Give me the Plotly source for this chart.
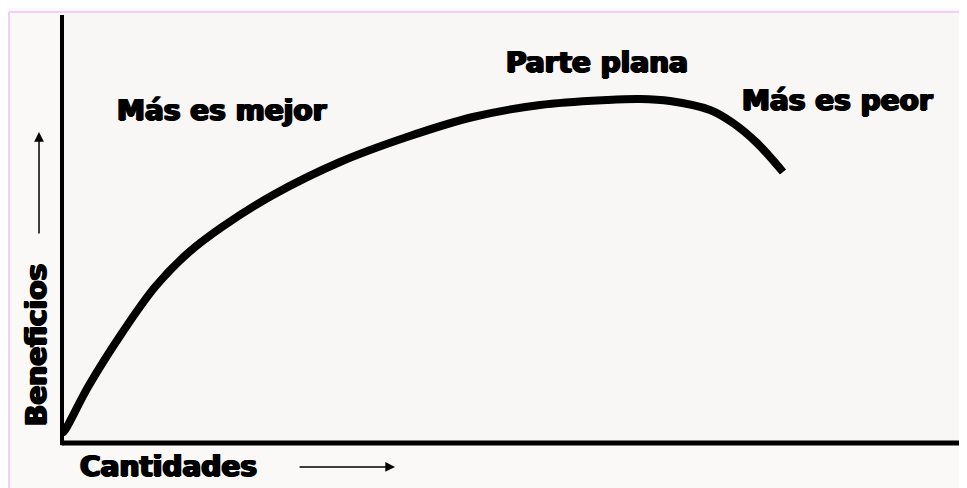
import plotly.graph_objects as go

# curve (x = quantity, y = benefit, arbitrary units)
cantidades = [0, 3, 26, 60, 93, 126, 160, 211, 278, 345, 411, 478, 545, 578, 608, 648, 671, 695, 721]
beneficios = [10, 13, 56, 110, 156, 190, 216, 248, 281, 306, 326, 338, 343, 344, 342, 333, 320, 300, 271]

etiquetas = ["Más es mejor", "Parte plana", "Más es peor"]
etiqueta_x = [160, 535, 775]
etiqueta_y = [333, 381, 343]

FONT = "DejaVu Sans, Verdana, sans-serif"
HEAVY = {"family": FONT, "size": 28, "color": "black", "weight": "bold",
         "shadow": "1.2px 0 0 black, -1.2px 0 0 black, 0 0.5px 0 black"}

fig = go.Figure()
fig.add_trace(
    go.Scatter(
        x=cantidades,
        y=beneficios,
        mode="lines",
        line={"color": "black", "width": 8, "shape": "spline", "smoothing": 1.0},
        hoverinfo="skip",
        showlegend=False,
    )
)

for text, x, y in zip(etiquetas, etiqueta_x, etiqueta_y):
    fig.add_annotation(x=x, y=y, text=text, showarrow=False, font=HEAVY)

# axis titles sit outside the plotting area, so they use paper coordinates
fig.add_annotation(xref="paper", yref="paper", x=0.118, y=-0.056, text="Cantidades",
                   xanchor="center", yanchor="middle", showarrow=False, font=HEAVY)
fig.add_annotation(xref="paper", yref="paper", x=-0.0276, y=0.229, text="Beneficios",
                   xanchor="center", yanchor="middle", showarrow=False, textangle=-90, font=HEAVY)

# small direction arrows next to the axis titles
fig.add_annotation(xref="paper", yref="paper", x=0.368, y=-0.056, ax=-97, ay=0, text="",
                   showarrow=True, arrowhead=2, arrowsize=1.3, arrowwidth=1.5, arrowcolor="black")
fig.add_annotation(xref="paper", yref="paper", x=-0.0254, y=0.7266, ax=0, ay=103, text="",
                   showarrow=True, arrowhead=2, arrowsize=1.3, arrowwidth=1.5, arrowcolor="black")

# axes and the faint pink frame
fig.add_shape(type="line", xref="paper", yref="paper", x0=0, x1=0, y0=-0.005, y1=1,
              line={"color": "black", "width": 4})
fig.add_shape(type="line", xref="paper", yref="paper", x0=0, x1=1.01, y0=0, y1=0,
              line={"color": "black", "width": 5})
fig.add_shape(type="line", xref="paper", yref="paper", x0=-0.0586, x1=1.01, y0=1.007, y1=1.007,
              line={"color": "#f6cdf4", "width": 2})
fig.add_shape(type="line", xref="paper", yref="paper", x0=-0.0586, x1=-0.0586, y0=1.007, y1=-0.11,
              line={"color": "#f6cdf4", "width": 2})

fig.update_xaxes(range=[0, 905], visible=False, fixedrange=True)
fig.update_yaxes(range=[0, 428], visible=False, fixedrange=True)
# the page body adds an 8px margin, so the figure is 8px smaller than the window
fig.update_layout(
    width=959,
    height=480,
    margin={"l": 54, "r": 0, "t": 7, "b": 45},
    paper_bgcolor="#fbf9f8",
    plot_bgcolor="#f9f7f6",
    showlegend=False,
)

fig.write_html("out.html")
